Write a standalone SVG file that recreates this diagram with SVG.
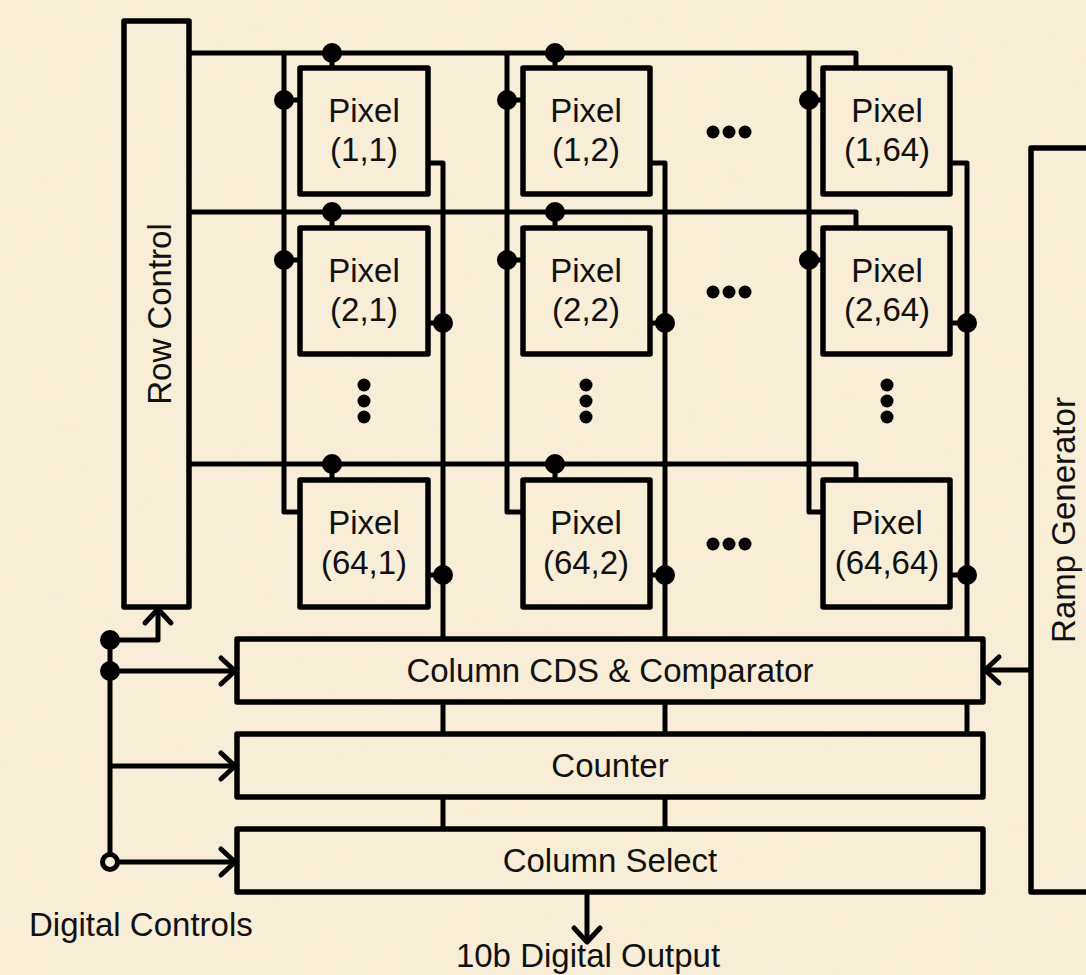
<svg xmlns="http://www.w3.org/2000/svg" width="1086" height="975" viewBox="0 0 1086 975">
<style>
.box{fill:none;stroke:#000;stroke-width:5.5;stroke-linejoin:round}
.w{fill:none;stroke:#000;stroke-width:5;stroke-linejoin:round}
.dot{fill:#000}
.t{font-family:"Liberation Sans",Arial,sans-serif;font-size:33px;fill:#111;text-anchor:middle}
</style>
<defs>
<marker id="arr" markerUnits="userSpaceOnUse" viewBox="-20 -20 30 40" refX="0" refY="0" markerWidth="30" markerHeight="40" orient="auto" overflow="visible">
<path d="M-14,-13 L0,0 L-14,13" fill="none" stroke="#000" stroke-width="5" stroke-linecap="round" stroke-linejoin="round"/>
</marker>
<filter id="paper" x="0" y="0" width="100%" height="100%">
<feTurbulence type="fractalNoise" baseFrequency="0.012" numOctaves="3" seed="4" result="n"/>
<feColorMatrix type="matrix" values="0 0 0 0 0.93  0 0 0 0 0.85  0 0 0 0 0.68  0 0 0 0.9 -0.3"/>
</filter>
</defs>
<rect width="1086" height="975" fill="#F8EED7"/>
<rect width="1086" height="975" filter="url(#paper)" opacity="0.35"/>

<g id="connectors">
<path class="w" d="M189,53 H856 V68 M189,212 H856 V228 M189,464 H856 V480"/>
<path class="w" d="M332,53 V68 M555,53 V68 M332,212 V228 M555,212 V228 M332,464 V480 M555,464 V480"/>
<path class="w" d="M284,53 V512 H300 M507,53 V512 H523 M809,53 V512 H823"/>
<path class="w" d="M284,100 H300 M284,260 H300 M507,100 H523 M507,260 H523 M809,100 H823 M809,260 H823"/>
<path class="w" d="M428,163 H443 V639 M650,163 H665 V639 M950,163 H967 V639"/>
<path class="w" d="M428,323 H443 M428,575 H443 M650,323 H665 M650,575 H665 M950,323 H967 M950,575 H967"/>
<path class="w" d="M443,702 V734 M665,702 V734 M967,702 V734 M443,797 V829 M665,797 V829"/>
<path class="w" d="M110,640 V862"/>
<path class="w" d="M110,640 H158 V609" marker-end="url(#arr)"/>
<path class="w" d="M110,671 H235" marker-end="url(#arr)"/>
<path class="w" d="M110,766 H235" marker-end="url(#arr)"/>
<path class="w" d="M110,862 H235" marker-end="url(#arr)"/>
<path class="w" d="M1031,670 H985" marker-end="url(#arr)"/>
<path class="w" d="M587,892 V942" marker-end="url(#arr)"/>
<g class="dot">
<circle cx="332" cy="53" r="10"/><circle cx="555" cy="53" r="10"/>
<circle cx="332" cy="212" r="10"/><circle cx="555" cy="212" r="10"/>
<circle cx="332" cy="464" r="10"/><circle cx="555" cy="464" r="10"/>
<circle cx="284" cy="100" r="10"/><circle cx="284" cy="260" r="10"/>
<circle cx="507" cy="100" r="10"/><circle cx="507" cy="260" r="10"/>
<circle cx="809" cy="100" r="10"/><circle cx="809" cy="260" r="10"/>
<circle cx="443" cy="323" r="10"/><circle cx="443" cy="575" r="10"/>
<circle cx="665" cy="323" r="10"/><circle cx="665" cy="575" r="10"/>
<circle cx="967" cy="323" r="10"/><circle cx="967" cy="575" r="10"/>
<circle cx="110" cy="640" r="10"/><circle cx="110" cy="671" r="10"/>
</g>
<circle cx="110" cy="862" r="7.5" fill="#F8EED7" stroke="#000" stroke-width="5"/>
</g>

<g id="ellipses" class="dot">
<circle cx="713" cy="132" r="6.5"/><circle cx="729" cy="132" r="6.5"/><circle cx="745" cy="132" r="6.5"/>
<circle cx="713" cy="292" r="6.5"/><circle cx="729" cy="292" r="6.5"/><circle cx="745" cy="292" r="6.5"/>
<circle cx="713" cy="544" r="6.5"/><circle cx="729" cy="544" r="6.5"/><circle cx="745" cy="544" r="6.5"/>
<circle cx="364" cy="385" r="6.5"/><circle cx="364" cy="401" r="6.5"/><circle cx="364" cy="417" r="6.5"/>
<circle cx="586" cy="385" r="6.5"/><circle cx="586" cy="401" r="6.5"/><circle cx="586" cy="417" r="6.5"/>
<circle cx="887" cy="385" r="6.5"/><circle cx="887" cy="401" r="6.5"/><circle cx="887" cy="417" r="6.5"/>
</g>

<g id="row-control">
<rect class="box" x="124" y="21" width="65" height="586"/>
<text class="t" transform="translate(171,314) rotate(-90)">Row Control</text>
</g>
<g id="ramp-generator">
<rect class="box" x="1031" y="148" width="100" height="744"/>
<text class="t" transform="translate(1075,520) rotate(-90)">Ramp Generator</text>
</g>

<g id="pixel-1-1"><rect class="box" x="300" y="68" width="128" height="126"/><text class="t" x="364" y="122">Pixel</text><text class="t" x="364" y="161">(1,1)</text></g>
<g id="pixel-1-2"><rect class="box" x="523" y="68" width="127" height="126"/><text class="t" x="586" y="122">Pixel</text><text class="t" x="586" y="161">(1,2)</text></g>
<g id="pixel-1-64"><rect class="box" x="823" y="68" width="127" height="126"/><text class="t" x="887" y="122">Pixel</text><text class="t" x="887" y="161">(1,64)</text></g>
<g id="pixel-2-1"><rect class="box" x="300" y="228" width="128" height="126"/><text class="t" x="364" y="282">Pixel</text><text class="t" x="364" y="321">(2,1)</text></g>
<g id="pixel-2-2"><rect class="box" x="523" y="228" width="127" height="126"/><text class="t" x="586" y="282">Pixel</text><text class="t" x="586" y="321">(2,2)</text></g>
<g id="pixel-2-64"><rect class="box" x="823" y="228" width="127" height="126"/><text class="t" x="887" y="282">Pixel</text><text class="t" x="887" y="321">(2,64)</text></g>
<g id="pixel-64-1"><rect class="box" x="300" y="480" width="128" height="127"/><text class="t" x="364" y="534">Pixel</text><text class="t" x="364" y="574">(64,1)</text></g>
<g id="pixel-64-2"><rect class="box" x="523" y="480" width="127" height="127"/><text class="t" x="586" y="534">Pixel</text><text class="t" x="586" y="574">(64,2)</text></g>
<g id="pixel-64-64"><rect class="box" x="823" y="480" width="127" height="127"/><text class="t" x="887" y="534">Pixel</text><text class="t" x="887" y="574">(64,64)</text></g>

<g id="column-cds"><rect class="box" x="237" y="639" width="746" height="63"/><text class="t" x="610" y="682">Column CDS &amp; Comparator</text></g>
<g id="counter"><rect class="box" x="237" y="734" width="746" height="63"/><text class="t" x="610" y="777">Counter</text></g>
<g id="column-select"><rect class="box" x="237" y="829" width="746" height="63"/><text class="t" x="610" y="872">Column Select</text></g>

<g id="labels">
<text class="t" x="29" y="936" style="text-anchor:start">Digital Controls</text>
<text class="t" x="588" y="967">10b Digital Output</text>
</g>
</svg>
